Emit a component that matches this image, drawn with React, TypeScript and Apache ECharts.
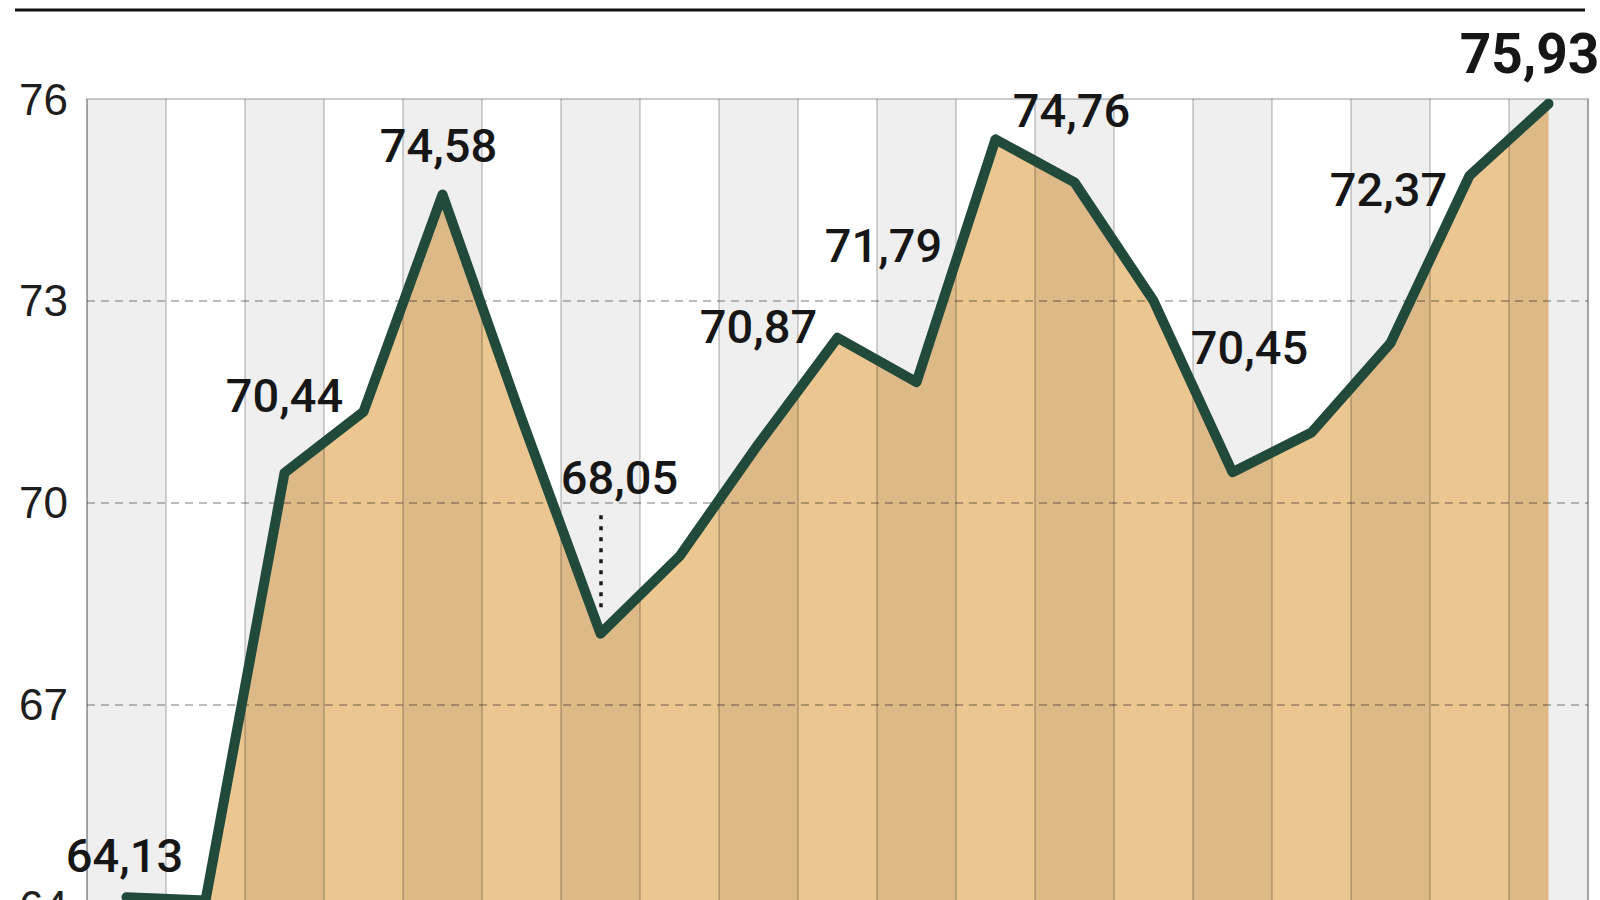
import { useEffect, useRef } from 'react';
import * as echarts from 'echarts';

// 19 periods; their axis labels are cut off below the picture
const periods = ['1', '2', '3', '4', '5', '6', '7', '8', '9', '10', '11', '12', '13', '14', '15', '16', '17', '18', '19'];

const values = [
  64.13, 64.08, 70.44, 71.35, 74.58, 71.25, 68.05, 69.2, 70.87, 72.45,
  71.79, 75.4, 74.76, 73.0, 70.45, 71.04, 72.37, 74.86, 75.93,
];

// points that carry a value label
const labelledPoints = [0, 2, 4, 6, 8, 10, 12, 14, 16, 18];

const yTicks = { min: 64, max: 76, step: 3 };

// label centre offsets (px) relative to the point
const LABEL_OFFSETS: Record<number, [number, number]> = {
  0: [-2, -42],
  2: [0, -77],
  4: [-4, -49],
  6: [19, -156],
  8: [0, -117],
  10: [-33, -137],
  12: [-3, -72],
  14: [17, -125],
  16: [-2, -154],
  18: [-19, -50],
};

// dotted leader under the 68,05 label, in axis units above the point
const LEADER_INDEX = 6;
const LEADER_TOP = 1.76;
const LEADER_BOTTOM = 0.3;

const LINE_COLOR = '#224a3a';
const FILL_COLOR = '#ebc690';
const LABEL_FONT = 'Roboto, "Noto Sans", sans-serif';
const AXIS_FONT = '"Liberation Sans Narrow", "Liberation Sans", Arimo, sans-serif';

const fmt = (v: number) => v.toFixed(2).replace('.', ',');

export default function App() {
  const ref = useRef<HTMLDivElement>(null);

  useEffect(() => {
    if (!ref.current) return;
    const chart = echarts.init(ref.current, null, { renderer: 'svg' });

    const last = values.length - 1;
    const lineData = values.map((v, i) => {
      if (!labelledPoints.includes(i)) return v;
      const item: any = {
        value: v,
        label: { show: true, offset: LABEL_OFFSETS[i] },
      };
      if (i === last) {
        item.label.fontWeight = 700;
        item.label.fontSize = 55;
      }
      return item;
    });

    const option: any = {
      animation: false,
      backgroundColor: '#ffffff',
      grid: {
        left: 87,
        right: 12,
        top: 99,
        bottom: -6,
        outerBoundsMode: 'none',
        containLabel: false,
        show: true,
        borderColor: '#cccccc',
        borderWidth: 2,
        backgroundColor: 'transparent',
      },
      xAxis: {
        type: 'category',
        data: periods,
        boundaryGap: true,
        z: 3,
        axisLine: { show: false },
        axisTick: { show: false },
        axisLabel: { show: false },
        splitLine: {
          show: true,
          interval: 0,
          lineStyle: { color: 'rgba(0,0,0,0.17)', width: 2 },
        },
        splitArea: {
          show: true,
          interval: 0,
          areaStyle: { color: ['rgba(0,0,0,0.063)', 'rgba(0,0,0,0)'] },
        },
      },
      yAxis: {
        type: 'value',
        min: yTicks.min,
        max: yTicks.max,
        interval: yTicks.step,
        z: 3,
        axisLine: { show: false },
        axisTick: { show: false },
        axisLabel: {
          align: 'left',
          margin: 68,
          fontSize: 44,
          fontFamily: AXIS_FONT,
          color: '#1e1e1e',
        },
        splitLine: {
          show: true,
          showMaxLine: false,
          lineStyle: { type: [8, 6], color: 'rgba(0,0,0,0.26)', width: 2 },
        },
      },
      series: [
        {
          name: 'fill',
          type: 'line',
          data: values,
          z: 2,
          silent: true,
          symbol: 'none',
          showSymbol: false,
          lineStyle: { width: 0, opacity: 0 },
          areaStyle: { color: FILL_COLOR, opacity: 1, origin: 'start' },
        },
        {
          name: 'line',
          type: 'line',
          data: lineData,
          z: 4,
          clip: false,
          silent: true,
          symbol: 'circle',
          symbolSize: 1,
          showSymbol: true,
          itemStyle: { color: LINE_COLOR },
          lineStyle: { color: LINE_COLOR, width: 10, join: 'round', cap: 'round' },
          label: {
            show: false,
            position: 'inside',
            fontFamily: LABEL_FONT,
            fontWeight: 500,
            fontSize: 47,
            color: '#161616',
            formatter: (p: any) => fmt(Number(p.value)),
          },
          markLine: {
            silent: true,
            symbol: 'none',
            label: { show: false },
            lineStyle: { type: [4, 7], color: '#1a1a1a', width: 3.5, opacity: 1 },
            data: [
              [
                { coord: [periods[LEADER_INDEX], values[LEADER_INDEX] + LEADER_TOP] },
                { coord: [periods[LEADER_INDEX], values[LEADER_INDEX] + LEADER_BOTTOM] },
              ],
            ],
          },
        },
      ],
      graphic: [
        {
          type: 'line',
          shape: { x1: 15, y1: 10, x2: 1585, y2: 10 },
          style: { stroke: '#111111', lineWidth: 3 },
          silent: true,
        },
      ],
    };

    chart.setOption(option);

    return () => {
      chart.dispose();
    };
  }, []);

  return (
    <div
      ref={ref}
      style={{ position: 'fixed', left: 0, top: 0, width: 1600, height: 900, background: '#ffffff' }}
    />
  );
}
